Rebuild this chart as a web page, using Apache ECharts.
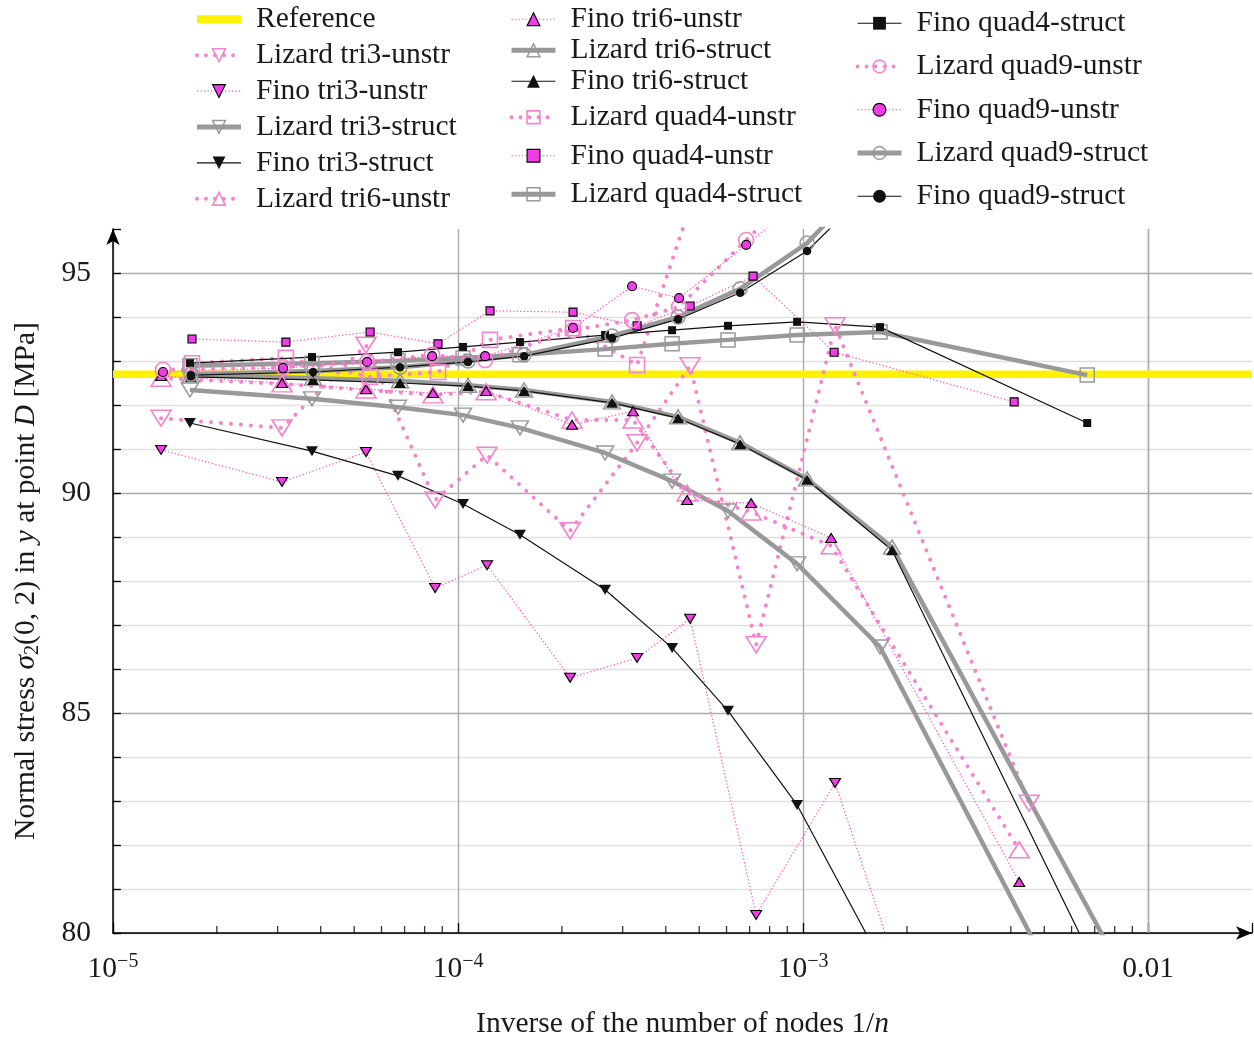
<!DOCTYPE html>
<html>
<head>
<meta charset="utf-8">
<script src="https://cdn.jsdelivr.net/npm/echarts@6/dist/echarts.min.js"></script>
<style>html,body{margin:0;padding:0;background:#fff}#c{width:1254px;height:1038px}</style>
</head>
<body>
<div id="c"></div>
<script>
// ---------- data (x = 1/n, y = sigma_2(0,2) in MPa) ----------
const referenceValue = 92.7;
const xRange = [1e-5, 0.02];
const yRange = [80, 96];
const majorGridX = [1e-4, 1e-3, 1e-2];
const minorGridX = [2e-5,3e-5,4e-5,5e-5,6e-5,7e-5,8e-5,9e-5,2e-4,3e-4,4e-4,5e-4,6e-4,7e-4,8e-4,9e-4,2e-3,3e-3,4e-3,5e-3,6e-3,7e-3,8e-3,9e-3];

const xStruct   = [1.671e-5, 3.773e-5, 6.70e-5, 1.034e-4, 1.512e-4, 2.668e-4, 4.172e-4, 6.06e-4, 9.61e-4, 1.671e-3, 6.66e-3];
const xStructHO = [1.682e-5, 3.80e-5, 6.79e-5, 1.069e-4, 1.554e-4, 2.795e-4, 4.342e-4, 6.57e-4, 1.027e-3, 1.811e-3, 1.014e-2];
const xTri3U    = [1.378e-5, 3.09e-5, 5.41e-5, 8.58e-5, 1.214e-4, 2.112e-4, 3.303e-4, 4.705e-4, 7.31e-4, 1.238e-3, 4.52e-3];
const xTri6U    = [1.378e-5, 3.09e-5, 5.41e-5, 8.46e-5, 1.206e-4, 2.14e-4, 3.216e-4, 4.61e-4, 7.07e-4, 1.206e-3, 4.23e-3];
const xQuad4U   = [1.694e-5, 3.17e-5, 5.56e-5, 8.75e-5, 1.238e-4, 2.154e-4, 3.303e-4, 4.705e-4, 7.16e-4, 1.23e-3, 4.09e-3];
const xQuad9U   = [1.396e-5, 3.11e-5, 5.45e-5, 8.41e-5, 1.198e-4, 2.154e-4, 3.194e-4, 4.37e-4, 6.84e-4, 1.206e-3];

const lizardTri3Unstr   = [91.70, 91.48, 93.36, 89.84, 90.86, 89.14, 91.14, 92.89, 86.55, 93.80, 82.95];
const finoTri3Unstr     = [90.98, 90.25, 90.93, 87.84, 88.36, 85.80, 86.25, 87.14, 80.41, 83.41, 70.2];
const lizardTri3Struct  = [92.34, 92.14, 91.95, 91.77, 91.48, 90.91, 90.27, 89.59, 88.39, 86.50, 77.5];
const finoTri3Struct    = [91.59, 90.95, 90.39, 89.75, 89.05, 87.80, 86.48, 85.05, 82.91, 79.4];
const lizardTri6Unstr   = [92.61, 92.48, 92.34, 92.23, 92.30, 91.66, 91.66, 90.00, 89.57, 88.80, 81.89];
const finoTri6Unstr     = [92.66, 92.50, 92.36, 92.27, 92.32, 91.55, 91.86, 89.84, 89.77, 88.98, 81.16];
const lizardTri6Struct  = [92.68, 92.61, 92.55, 92.45, 92.34, 92.07, 91.73, 91.14, 90.32, 88.77, 77.95];
const finoTri6Struct    = [92.64, 92.57, 92.50, 92.43, 92.32, 92.05, 91.70, 91.11, 90.30, 88.70, 76.7];
const lizardQuad4Unstr  = [92.95, 93.07, 92.64, 92.75, 93.48, 93.75, 92.91, 96.5];
const finoQuad4Unstr    = [93.50, 93.43, 93.66, 93.39, 94.14, 94.11, 93.80, 94.25, 94.93, 93.20, 92.07];
const lizardQuad4Struct = [92.89, 92.95, 93.00, 93.07, 93.14, 93.27, 93.39, 93.48, 93.59, 93.66, 92.68];
const finoQuad4Struct   = [92.95, 93.09, 93.20, 93.32, 93.43, 93.59, 93.70, 93.80, 93.89, 93.77, 91.59];
const lizardQuad9Unstr  = [92.80, 92.86, 92.98, 93.14, 93.02, 93.70, 93.93, 94.23, 95.75, 97.6];
const finoQuad9Unstr    = [92.75, 92.84, 92.98, 93.11, 93.11, 93.75, 94.70, 94.43, 95.64, 97.2];
const lizardQuad9Struct = [92.70, 92.77, 92.86, 93.00, 93.14, 93.57, 94.00, 94.64, 95.68, 97.7];
const finoQuad9Struct   = [92.68, 92.75, 92.86, 92.98, 93.11, 93.52, 93.95, 94.55, 95.50, 97.4];

const yTicks = [80, 85, 90, 95];

// ---------- styles ----------
const FONT = 'Liberation Serif';
const FS = 29.5;
const TXT = '#1a1a1a';
const YELLOW = '#fff200';
const PINK = '#f584cf';
const PINK_THIN = '#ff4fc6';
const MAGENTA = '#ef3ce6';
const GRAY = '#999999';
const BLACK = '#111111';
const CLEAR = 'rgba(0,0,0,0)';
const GRID_MAJOR = '#ababab';
const GRID_MINOR = '#e0e0e0';

const markerShape = {
  down:   {symbol: 'triangle', rotate: 180},
  up:     {symbol: 'triangle', rotate: 0},
  square: {symbol: 'rect', rotate: 0},
  circle: {symbol: 'circle', rotate: 0}
};
const markerSize = {
  lu: {down: [20, 16], up: [20, 16], square: 15, circle: 15},
  fu: {down: [11, 9],  up: [11, 9],  square: 8,  circle: 9},
  ls: {down: [17, 14], up: [17, 14], square: 14, circle: 14},
  fs: {down: [12, 10], up: [12, 10], square: 8,  circle: 8.5}
};
const kindStyle = {
  lu: {line: {color: PINK, width: 4, type: [0.01, 10], cap: 'round'}, item: {color: CLEAR, borderColor: PINK, borderWidth: 1.6}},
  fu: {line: {color: PINK_THIN, width: 1.2, type: [1.3, 2.2]}, item: {color: MAGENTA, borderColor: '#000', borderWidth: 1.1}},
  ls: {line: {color: GRAY, width: 4.5, type: 'solid'}, item: {color: CLEAR, borderColor: GRAY, borderWidth: 1.5}},
  fs: {line: {color: BLACK, width: 1.2, type: 'solid'}, item: {color: BLACK, borderWidth: 0}}
};

const seriesDefs = [
  ['Lizard tri3-unstr',  'lu', 'down',   xTri3U,    lizardTri3Unstr],
  ['Fino tri3-unstr',    'fu', 'down',   xTri3U,    finoTri3Unstr],
  ['Lizard tri3-struct', 'ls', 'down',   xStruct,   lizardTri3Struct],
  ['Fino tri3-struct',   'fs', 'down',   xStruct,   finoTri3Struct],
  ['Lizard tri6-unstr',  'lu', 'up',     xTri6U,    lizardTri6Unstr],
  ['Fino tri6-unstr',    'fu', 'up',     xTri6U,    finoTri6Unstr],
  ['Lizard tri6-struct', 'ls', 'up',     xStructHO, lizardTri6Struct],
  ['Fino tri6-struct',   'fs', 'up',     xStructHO, finoTri6Struct],
  ['Lizard quad4-unstr', 'lu', 'square', xQuad4U,   lizardQuad4Unstr],
  ['Fino quad4-unstr',   'fu', 'square', xQuad4U,   finoQuad4Unstr],
  ['Lizard quad4-struct','ls', 'square', xStruct,   lizardQuad4Struct],
  ['Fino quad4-struct',  'fs', 'square', xStruct,   finoQuad4Struct],
  ['Lizard quad9-unstr', 'lu', 'circle', xQuad9U,   lizardQuad9Unstr],
  ['Fino quad9-unstr',   'fu', 'circle', xQuad9U,   finoQuad9Unstr],
  ['Lizard quad9-struct','ls', 'circle', xStructHO, lizardQuad9Struct],
  ['Fino quad9-struct',  'fs', 'circle', xStructHO, finoQuad9Struct]
];

const kindOf = {};
seriesDefs.forEach(d => { kindOf[d[0]] = d[1]; });

const gridLineData = minorGridX.map(v => ({xAxis: v}))
  .concat(majorGridX.map(v => ({xAxis: v, lineStyle: {color: GRID_MAJOR, width: 1.4, type: 'solid'}})));

const series = [{
  name: 'Reference', type: 'line', z: 2,
  data: [[xRange[0], referenceValue], [xRange[1], referenceValue]],
  symbol: 'none', color: YELLOW,
  lineStyle: {color: YELLOW, width: 7.5},
  markLine: {
    silent: true, symbol: 'none', z: 1, animation: false,
    label: {show: false},
    lineStyle: {color: '#dedede', width: 1, type: 'solid'},
    emphasis: {disabled: true},
    data: gridLineData
  }
}, {
  // minor ticks along the x axis (inside)
  name: '_minorTicks', type: 'scatter', z: 4, silent: true, clip: false,
  data: minorGridX.map(v => [v, yRange[0]]),
  symbol: 'rect', symbolSize: [1.3, 7], symbolOffset: [0, -3.5],
  itemStyle: {color: '#000'},
  emphasis: {disabled: true}, tooltip: {show: false}
}];
seriesDefs.forEach(([name, kind, mk, xs, ys]) => {
  const st = kindStyle[kind];
  series.push({
    name, type: 'line', z: 3,
    data: ys.map((y, i) => [xs[i], y]),
    symbol: markerShape[mk].symbol,
    symbolRotate: markerShape[mk].rotate,
    symbolSize: markerSize[kind][mk],
    showSymbol: true, showAllSymbol: true, clip: true,
    color: st.line.color,
    lineStyle: Object.assign({}, st.line),
    itemStyle: Object.assign({}, st.item),
    emphasis: {disabled: true}
  });
});

function legendItem(name) {
  if (name === 'Reference') {
    return {name, lineStyle: {color: YELLOW, width: 8, type: 'solid'}, itemStyle: {opacity: 0}};
  }
  const k = kindOf[name];
  const st = kindStyle[k];
  const ls = Object.assign({}, st.line);
  if (k === 'lu') ls.type = [0.01, 9];
  if (k === 'ls') ls.width = 5;
  return {name, lineStyle: ls, itemStyle: Object.assign({opacity: 1}, st.item)};
}
const legendText = {fontFamily: FONT, fontSize: FS, color: TXT, lineHeight: FS, padding: [0, 0, 0, 10]};
function legendBox(names, left, top, gap) {
  return {
    orient: 'vertical', left, top, itemGap: gap, padding: 0,
    itemWidth: 44, itemHeight: 16, selectedMode: false,
    textStyle: legendText,
    data: names.map(legendItem)
  };
}
const col1 = ['Reference', 'Lizard tri3-unstr', 'Fino tri3-unstr', 'Lizard tri3-struct', 'Fino tri3-struct', 'Lizard tri6-unstr'];
const col2a = ['Fino tri6-unstr', 'Lizard tri6-struct', 'Fino tri6-struct'];
const col2b = ['Lizard quad4-unstr', 'Fino quad4-unstr', 'Lizard quad4-struct'];
const col3 = ['Fino quad4-struct', 'Lizard quad9-unstr', 'Fino quad9-unstr', 'Lizard quad9-struct', 'Fino quad9-struct'];

function fmtX(v) {
  const l = Math.log10(v), r = Math.round(l);
  if (Math.abs(l - r) > 1e-6) return '';
  if (r === -2) return '{n|0.01}';
  return '{n|10}{s|\u2212' + (-r) + '}';
}

const option = {
  animation: false,
  backgroundColor: '#fff',
  textStyle: {fontFamily: FONT},
  grid: {left: 113, right: 2, top: 229, bottom: 105, containLabel: false, outerBoundsMode: 'none'},
  legend: [
    legendBox(col1, 193, 4.25, 5.9),
    legendBox(col2a, 509, 4.25, 1),
    legendBox(col2b, 509, 102.25, 8.5),
    legendBox(col3, 855, 8.25, 13.25)
  ],
  xAxis: {
    type: 'log', logBase: 10, min: xRange[0], max: xRange[1],
    axisLine: {show: true, onZero: false, lineStyle: {color: '#000', width: 1.5}, symbol: ['none', 'arrow'], symbolSize: [10, 16]},
    axisTick: {show: true, inside: true, length: 10, lineStyle: {color: '#000', width: 1.3}},
    minorTick: {show: false},
    axisLabel: {
      margin: 19, formatter: fmtX, color: TXT,
      rich: {
        n: {fontFamily: FONT, fontSize: FS, lineHeight: 34, color: TXT},
        s: {fontFamily: FONT, fontSize: 20, lineHeight: 20, verticalAlign: 'top', color: TXT}
      }
    },
    splitLine: {show: true, showMinLine: true, showMaxLine: false, lineStyle: {color: GRID_MAJOR, width: 1.4}},
    name: '{n|Inverse of the number of nodes 1/}{i|n}',
    nameLocation: 'middle', nameGap: 76,
    nameTextStyle: {
      fontFamily: FONT, fontSize: FS, color: TXT,
      rich: {
        n: {fontFamily: FONT, fontSize: FS, color: TXT},
        i: {fontFamily: FONT, fontSize: FS, fontStyle: 'italic', color: TXT}
      }
    }
  },
  yAxis: {
    type: 'value', min: yRange[0], max: yRange[1], interval: 1,
    axisLine: {show: true, onZero: false, lineStyle: {color: '#000', width: 1.5}, symbol: ['none', 'arrow'], symbolSize: [10, 16]},
    axisTick: {show: true, inside: true, length: 8, lineStyle: {color: '#000', width: 1.3}},
    axisLabel: {
      margin: 22, fontFamily: FONT, fontSize: FS, color: TXT,
      formatter: v => (yTicks.indexOf(v) >= 0 ? String(v) : '')
    },
    splitLine: {show: true, showMaxLine: false, lineStyle: {color: [GRID_MAJOR, GRID_MINOR, GRID_MINOR, GRID_MINOR, GRID_MINOR], width: 1.3}},
    name: '{n|Normal stress }{i|\u03c3}{sub|2}{n|(0, 2) in }{i|y}{n| at point }{i|D}{n| [MPa]}',
    nameLocation: 'middle', nameGap: 70, nameRotate: 90,
    nameTextStyle: {
      fontFamily: FONT, fontSize: FS, color: TXT,
      rich: {
        n: {fontFamily: FONT, fontSize: FS, lineHeight: 34, color: TXT},
        i: {fontFamily: FONT, fontSize: FS, lineHeight: 34, fontStyle: 'italic', color: TXT},
        sub: {fontFamily: FONT, fontSize: 20, lineHeight: 20, verticalAlign: 'bottom', color: TXT}
      }
    }
  },
  series
};

const chart = echarts.init(document.getElementById('c'), null, {renderer: 'canvas'});
chart.setOption(option);
</script>
</body>
</html>
